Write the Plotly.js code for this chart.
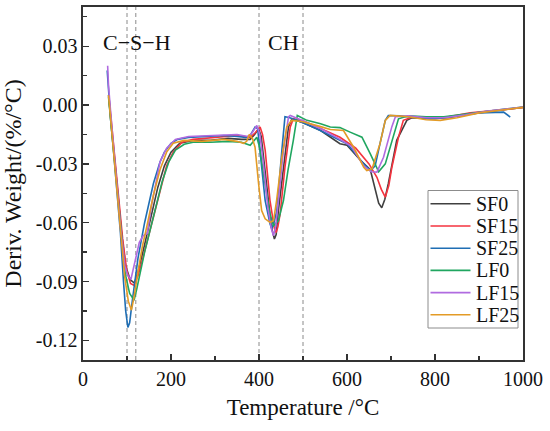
<!DOCTYPE html>
<html>
<head>
<meta charset="utf-8">
<script src="https://cdn.plot.ly/plotly-3.0.1.min.js"></script>
<style>html,body{margin:0;padding:0;background:#fff;}#chart{width:550px;height:431px;}</style>
</head>
<body>
<div id="chart"></div>
<script>
// ---- Data ----
const seriesNames = ["SF0", "SF15", "SF25", "LF0", "LF15", "LF25"];

const sf0T = [58, 63, 70, 79, 88, 97, 107, 117, 125, 135, 145, 155, 170, 185, 200, 220, 250, 290, 330, 360, 380, 390, 399, 405, 412, 420, 428, 435, 439, 444, 455.6, 467, 475, 500, 540, 584, 600, 630, 653, 664, 672, 679, 686, 694, 713, 736, 747, 790, 830, 880, 930, 970, 1000];
const sf0V = [0.005, -0.007, -0.024, -0.045, -0.066, -0.082, -0.089, -0.0908, -0.085, -0.076, -0.066, -0.056, -0.042, -0.031, -0.024, -0.0195, -0.018, -0.018, -0.017, -0.0175, -0.0175, -0.015, -0.0121, -0.016, -0.03, -0.048, -0.062, -0.0683, -0.066, -0.0538, -0.0317, -0.0112, -0.007, -0.009, -0.013, -0.0197, -0.0205, -0.028, -0.033, -0.0436, -0.050, -0.0524, -0.048, -0.040, -0.018, -0.0078, -0.0065, -0.007, -0.0065, -0.0045, -0.003, -0.002, -0.0012];

const sf15T = [59, 64, 72, 81, 90, 99, 108, 116, 125, 135, 145, 160, 175, 190, 205, 225, 250, 280, 320, 350, 380, 392, 402.5, 408, 414, 425, 435, 439, 443, 448, 459, 471, 478, 500, 540, 584, 620, 650, 668, 678, 687, 695, 702, 717, 728, 750, 790, 830, 880, 930, 970, 1000];
const sf15V = [0.004, -0.008, -0.026, -0.047, -0.068, -0.084, -0.091, -0.092, -0.087, -0.079, -0.070, -0.057, -0.043, -0.031, -0.024, -0.019, -0.0175, -0.017, -0.016, -0.0155, -0.0165, -0.014, -0.0112, -0.015, -0.023, -0.0487, -0.063, -0.065, -0.062, -0.0555, -0.0317, -0.0112, -0.007, -0.008, -0.012, -0.0164, -0.022, -0.030, -0.0368, -0.043, -0.047, -0.041, -0.0317, -0.0164, -0.0078, -0.006, -0.0065, -0.006, -0.004, -0.003, -0.002, -0.0012];

const sf25T = [55, 58, 63, 70, 78, 85, 92, 97, 102, 106, 112, 118, 125, 140, 160, 175, 185, 200, 215, 240, 280, 320, 350, 370, 380, 391, 397, 402.5, 414, 425, 429, 434, 440.5, 452, 459, 470, 500, 530, 562, 600, 620, 638, 653, 664, 675, 687, 694, 720, 760, 800, 850, 900, 956, 971];
const sf25V = [0.0177, 0.006, -0.008, -0.025, -0.045, -0.065, -0.09, -0.105, -0.1134, -0.111, -0.100, -0.089, -0.078, -0.060, -0.040, -0.029, -0.024, -0.0195, -0.0175, -0.0165, -0.016, -0.0155, -0.016, -0.0165, -0.0155, -0.0112, -0.012, -0.023, -0.0487, -0.0606, -0.063, -0.060, -0.0538, -0.023, -0.006, -0.0065, -0.009, -0.012, -0.0155, -0.0197, -0.025, -0.030, -0.0334, -0.031, -0.0197, -0.0078, -0.0053, -0.0055, -0.0065, -0.007, -0.0055, -0.004, -0.0036, -0.0061];

const lf0T = [58, 63, 70, 78, 87, 96, 106, 116, 122, 130, 140, 150, 165, 180, 195, 210, 230, 250, 290, 330, 360, 380, 395, 402, 410, 425, 433, 444, 455.6, 466, 478, 487, 509, 540, 562, 584, 607, 634, 653, 672, 687, 706, 717, 740, 780, 820, 870, 920, 960, 1000];
const lf0V = [0.004, -0.008, -0.026, -0.046, -0.068, -0.086, -0.096, -0.0995, -0.094, -0.085, -0.075, -0.066, -0.052, -0.039, -0.029, -0.023, -0.020, -0.019, -0.019, -0.0185, -0.019, -0.0205, -0.0164, -0.022, -0.035, -0.0555, -0.0615, -0.059, -0.0487, -0.033, -0.018, -0.0053, -0.0078, -0.0095, -0.0112, -0.0115, -0.0138, -0.0164, -0.0249, -0.034, -0.030, -0.0146, -0.007, -0.0055, -0.006, -0.006, -0.0045, -0.003, -0.002, -0.001];

const lf15T = [56, 58, 63, 70, 78, 86, 95, 102, 109, 113, 120, 128, 137, 146, 155, 165, 175, 190, 210, 240, 280, 320, 350, 375, 385, 395, 402, 410, 420, 428, 433, 438, 444, 455.6, 467, 471, 500, 540, 580, 610, 638, 655, 668, 683, 702, 710, 740, 780, 820, 870, 920, 960, 1000];
const lf15V = [0.020, 0.010, -0.004, -0.022, -0.043, -0.064, -0.082, -0.087, -0.0888, -0.085, -0.077, -0.070, -0.0666, -0.0655, -0.052, -0.040, -0.029, -0.022, -0.0175, -0.016, -0.0155, -0.015, -0.015, -0.016, -0.014, -0.0104, -0.015, -0.030, -0.052, -0.063, -0.0666, -0.062, -0.0487, -0.023, -0.0061, -0.0053, -0.008, -0.012, -0.017, -0.021, -0.031, -0.034, -0.0342, -0.0266, -0.011, -0.006, -0.0055, -0.0065, -0.0065, -0.005, -0.003, -0.002, -0.001];

const lf25T = [58, 63, 70, 78, 87, 95, 103, 110, 116, 125, 135, 145, 160, 175, 190, 205, 230, 270, 320, 350, 365, 372, 378, 385, 391, 399, 406, 414, 425, 433, 440, 452, 463, 474, 500, 540, 562, 592, 615, 638, 645, 657, 675, 687, 698, 740, 780, 812, 850, 900, 950, 1000];
const lf25V = [0.005, -0.007, -0.024, -0.045, -0.068, -0.088, -0.100, -0.1046, -0.098, -0.085, -0.072, -0.062, -0.046, -0.033, -0.024, -0.0195, -0.018, -0.0185, -0.0175, -0.0185, -0.0195, -0.0185, -0.015, -0.017, -0.0215, -0.040, -0.0538, -0.058, -0.0598, -0.059, -0.0487, -0.0266, -0.0112, -0.0078, -0.0085, -0.011, -0.0125, -0.013, -0.0215, -0.0317, -0.0334, -0.0325, -0.0197, -0.0078, -0.0053, -0.006, -0.0075, -0.0078, -0.0065, -0.004, -0.0025, -0.0012];

const seriesColors = ["#404040", "#F5333F", "#1F6EB4", "#20A660", "#B06BE0", "#E39B26"];

const refLinesX = [100, 120, 400, 500];
const peakLabels = ["C\u2212S\u2212H", "CH"];
const peakLabelX = [123, 455];
const peakLabelY = [0.032, 0.032];

const xTickVals = [0, 200, 400, 600, 800, 1000];
const xTickText = ["0", "200", "400", "600", "800", "1000"];
const yTickVals = [-0.12, -0.09, -0.06, -0.03, 0.00, 0.03];
const yTickText = ["-0.12", "-0.09", "-0.06", "-0.03", "0.00", "0.03"];

// ---- Build traces ----
const allT = [sf0T, sf15T, sf25T, lf0T, lf15T, lf25T];
const allV = [sf0V, sf15V, sf25V, lf0V, lf15V, lf25V];
const traces = seriesNames.map((n, i) => ({
  type: "scatter", mode: "lines", name: n,
  x: allT[i], y: allV[i],
  line: {color: seriesColors[i], width: 1.6},
  showlegend: false
}));

const FONT = "'Liberation Serif', 'Times New Roman', serif";
const W = 550, H = 431, ML = 83, MR = 27, MT = 7, MB = 71;
const PW = W - ML - MR, PH = H - MT - MB;
const px = v => (v - ML) / PW;          // pixel x -> paper x
const py = v => (H - MB - v) / PH;      // pixel y -> paper y

const shapes = refLinesX.map(x => ({
  type: "line", xref: "x", yref: "paper", x0: x, x1: x, y0: 0, y1: 1,
  line: {color: "#8a8a8a", width: 1, dash: "4px,3px"}, layer: "below"
}));
const annotations = peakLabels.map((t, i) => ({
  text: t, x: peakLabelX[i], y: peakLabelY[i], xref: "x", yref: "y",
  showarrow: false, font: {family: FONT, size: 22, color: "#111"}
}));

// ---- Legend box (drawn as layout shapes/text) ----
const legLeft = 428, legRight = 518, legTop = 190.5, legBottom = 328;
shapes.push({
  type: "rect", xref: "paper", yref: "paper",
  x0: px(legLeft), x1: px(legRight), y0: py(legBottom), y1: py(legTop),
  line: {color: "#8c8c8c", width: 1}, fillcolor: "#fff", layer: "above"
});
seriesNames.forEach((n, i) => {
  const yy = 203.8 + i * 22.2;
  shapes.push({
    type: "line", xref: "paper", yref: "paper",
    x0: px(430.5), x1: px(470.5), y0: py(yy), y1: py(yy),
    line: {color: seriesColors[i], width: 1.6}, layer: "above"
  });
  annotations.push({
    text: n, xref: "paper", yref: "paper", x: px(474), y: py(yy),
    xanchor: "left", yanchor: "middle", showarrow: false,
    font: {family: FONT, size: 20, color: "#111"}
  });
});

const layout = {
  width: W, height: H,
  margin: {l: ML, r: MR, t: MT, b: MB},
  paper_bgcolor: "#fff", plot_bgcolor: "#fff",
  font: {family: FONT, size: 20, color: "#111"},
  showlegend: false,
  xaxis: {
    range: [0, 1000], tickvals: xTickVals, ticktext: xTickText,
    ticks: "inside", ticklen: 6, tickwidth: 1.3, tickcolor: "#333",
    minor: {dtick: 100, tick0: 0, ticks: "inside", ticklen: 4, tickwidth: 1.3, tickcolor: "#333", showgrid: false},
    showline: true, linecolor: "#333", linewidth: 1.6, mirror: true,
    showgrid: false, zeroline: false,
    tickfont: {family: FONT, size: 20, color: "#111"},
    title: {text: "Temperature /\u00b0C", font: {family: FONT, size: 23, color: "#111"}, standoff: 10}
  },
  yaxis: {
    range: [-0.13, 0.05], tickvals: yTickVals, ticktext: yTickText,
    ticks: "inside", ticklen: 6, tickwidth: 1.3, tickcolor: "#333",
    minor: {dtick: 0.015, tick0: 0, ticks: "inside", ticklen: 4, tickwidth: 1.3, tickcolor: "#333", showgrid: false},
    showline: true, linecolor: "#333", linewidth: 1.6, mirror: true,
    showgrid: false, zeroline: false,
    tickfont: {family: FONT, size: 20, color: "#111"},
    title: {text: "Deriv. Weight/(%/\u00b0C)", font: {family: FONT, size: 24, color: "#111"}, standoff: 7}
  },
  shapes: shapes,
  annotations: annotations
};

Plotly.newPlot("chart", traces, layout, {staticPlot: true, displayModeBar: false});
</script>
</body>
</html>
